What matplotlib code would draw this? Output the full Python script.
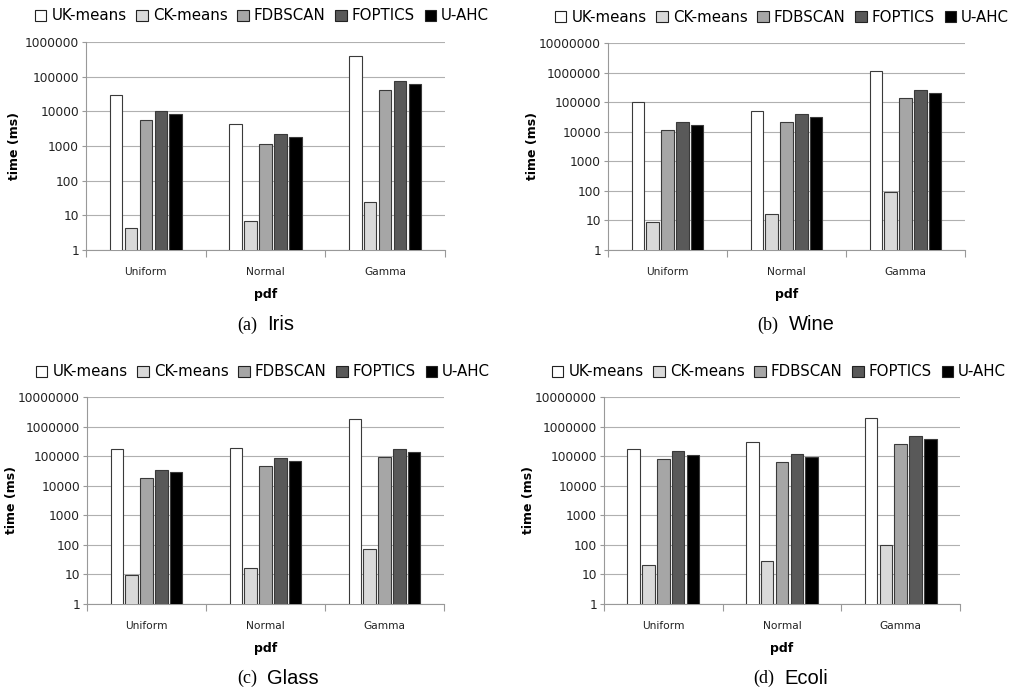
import numpy as np
import matplotlib
matplotlib.use("Agg")
import matplotlib.pyplot as plt
from matplotlib.patches import Patch

# categories and series
pdfs = ["Uniform", "Normal", "Gamma"]
methods = ["UK-means", "CK-means", "FDBSCAN", "FOPTICS", "U-AHC"]
colors = ["#ffffff", "#d9d9d9", "#a6a6a6", "#595959", "#000000"]

# time (ms) per method, one value per pdf (Uniform, Normal, Gamma)
iris = [[30000, 4200, 400000],
        [4.3, 7, 23.5],
        [5500, 1170, 42000],
        [10500, 2270, 77000],
        [8300, 1780, 61000]]
wine = [[100000, 52000, 1170000],
        [9, 16, 90],
        [11700, 22000, 137000],
        [22000, 41000, 250000],
        [17000, 32000, 197000]]
glass = [[173000, 182000, 1870000],
         [9.2, 16, 71],
         [18000, 45000, 95000],
         [35000, 85000, 168000],
         [28000, 67000, 133000]]
ecoli = [[173000, 300000, 1900000],
         [21, 28, 100],
         [77000, 63000, 255000],
         [147000, 120000, 490000],
         [111000, 95000, 370000]]

W, H = 1013, 694
fig = plt.figure(figsize=(W / 100, H / 100), dpi=100)


def px_axes(left, top, right, bottom):
    return fig.add_axes([left / W, 1 - bottom / H, (right - left) / W, (bottom - top) / H])


def draw_panel(box, data, ytop, letter, name, leg_y, cap_y, ylab_x, leg_cx):
    ax = px_axes(*box)
    x = np.arange(len(pdfs))
    pitch = 0.125
    width = 0.105
    for i, vals in enumerate(data):
        ax.bar(x + (i - 2) * pitch, vals, width, color=colors[i],
               edgecolor="#3a3a3a", linewidth=0.8, zorder=3)
    ax.set_yscale("log")
    ax.set_ylim(1, ytop)
    ax.set_xlim(-0.5, 2.5)
    decades = range(int(round(np.log10(ytop))) + 1)
    ax.set_yticks([10 ** k for k in decades])
    ax.set_yticklabels([str(10 ** k) for k in decades])
    ax.yaxis.set_minor_locator(matplotlib.ticker.NullLocator())
    ax.set_xticks(x)
    ax.set_xticklabels(pdfs)
    ax.set_xticks([-0.5, 0.5, 1.5, 2.5], minor=True)
    ax.tick_params(axis="x", which="major", length=0, pad=12, labelsize=7.7, labelcolor="#222222")
    ax.tick_params(axis="x", which="minor", length=5, color="#999999", width=0.8)
    ax.tick_params(axis="y", length=3, color="#999999", labelsize=8.8, labelcolor="#222222", pad=2)
    ax.grid(axis="y", color="#b0b0b0", linewidth=0.8, zorder=0)
    for s in ["top", "right"]:
        ax.spines[s].set_visible(False)
    for s in ["left", "bottom"]:
        ax.spines[s].set_color("#999999")
        ax.spines[s].set_linewidth(0.8)
    ax.set_xlabel("pdf", fontsize=9, fontweight="bold", labelpad=8)
    ax.set_ylabel("time (ms)", fontsize=9, fontweight="bold")
    ax.yaxis.set_label_coords((ylab_x + 6 - box[0]) / (box[2] - box[0]), 0.5)

    handles = [Patch(facecolor=c, edgecolor="#222222", linewidth=0.8) for c in colors]
    fig.legend(handles, methods, loc="center", bbox_to_anchor=(leg_cx / W, 1 - leg_y / H),
               ncol=5, frameon=False, fontsize=10.8, handlelength=0.75, handleheight=0.75,
               handletextpad=0.35, columnspacing=0.65, borderpad=0)

    cx = (box[0] + box[2]) / 2 - 4
    fig.text((cx - 4) / W, 1 - cap_y / H, "(" + letter + ")", ha="right", va="center",
             fontsize=13, family="Liberation Serif")
    fig.text((cx + 6) / W, 1 - cap_y / H, name, ha="left", va="center",
             fontsize=14.5, family="Liberation Sans")


draw_panel((86, 42, 445, 250), iris, 1e6, "a", "Iris", 16, 325, 15, 262)
draw_panel((608, 43, 965, 250), wine, 1e7, "b", "Wine", 17, 325, 533, 782)
draw_panel((87, 397, 444, 604), glass, 1e7, "c", "Glass", 372, 678, 12, 263)
draw_panel((604, 397, 960, 604), ecoli, 1e7, "d", "Ecoli", 372, 678, 529, 779)

fig.savefig("out.png", dpi=100)
